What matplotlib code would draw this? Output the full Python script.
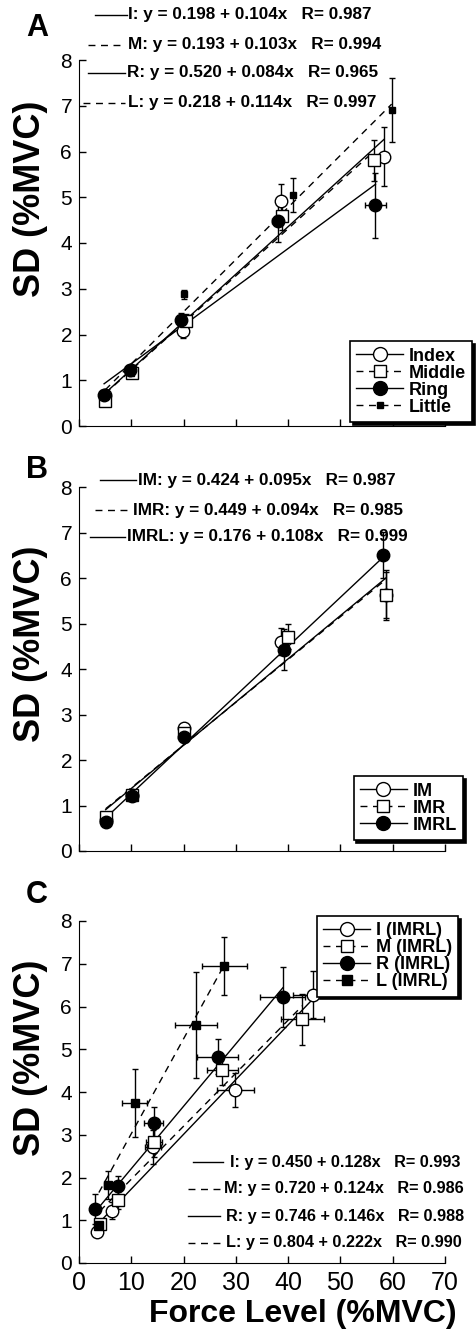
import numpy as np
import matplotlib.pyplot as plt
from matplotlib.lines import Line2D

plt.rcParams['font.family'] = ['Liberation Sans', 'DejaVu Sans']

# ---- Panel A: single-finger tasks
a_names = ['Index', 'Middle', 'Ring', 'Little']
a_tags = ['I', 'M', 'R', 'L']
a_force = [[5.0, 10.0, 19.8, 38.6, 58.3],
           [5.0, 10.2, 20.5, 38.8, 56.5],
           [4.8, 9.8, 19.5, 38.0, 56.7],
           [5.0, 10.0, 20.1, 41.0, 59.8]]
a_force_err = [[0.2, 0.3, 0.4, 0.6, 0.8],
               [0.2, 0.3, 0.4, 0.6, 0.8],
               [0.3, 0.4, 0.6, 1.0, 2.0],
               [0.1, 0.2, 0.2, 0.3, 0.3]]
a_sd = [[0.68, 1.22, 2.08, 4.92, 5.89],
        [0.55, 1.15, 2.30, 4.58, 5.81],
        [0.68, 1.22, 2.32, 4.47, 4.82],
        [0.65, 1.15, 2.88, 5.05, 6.91]]
a_sd_err = [[0.08, 0.10, 0.15, 0.37, 0.65],
            [0.05, 0.10, 0.15, 0.30, 0.45],
            [0.05, 0.10, 0.15, 0.45, 0.72],
            [0.05, 0.08, 0.10, 0.37, 0.70]]
a_intercept = [0.198, 0.193, 0.520, 0.218]
a_slope = [0.104, 0.103, 0.084, 0.114]
a_r = [0.987, 0.994, 0.965, 0.997]

# ---- Panel B: multi-finger totals
b_names = ['IM', 'IMR', 'IMRL']
b_force = [[5.1, 10.1, 20.0, 38.6, 58.7],
           [5.1, 10.1, 20.0, 39.9, 58.8],
           [5.1, 10.1, 20.0, 39.3, 58.2]]
b_force_err = [[0.2, 0.3, 0.3, 0.5, 0.5],
               [0.2, 0.3, 0.3, 0.5, 0.5],
               [0.2, 0.3, 0.3, 0.5, 0.5]]
b_sd = [[0.68, 1.22, 2.70, 4.60, 5.63],
        [0.75, 1.22, 2.60, 4.71, 5.63],
        [0.63, 1.20, 2.50, 4.42, 6.51]]
b_sd_err = [[0.05, 0.08, 0.10, 0.30, 0.50],
            [0.05, 0.08, 0.10, 0.27, 0.55],
            [0.05, 0.08, 0.10, 0.45, 0.50]]
b_intercept = [0.424, 0.449, 0.176]
b_slope = [0.095, 0.094, 0.108]
b_r = [0.987, 0.985, 0.999]

# ---- Panel C: individual fingers within IMRL task
c_names = ['I (IMRL)', 'M (IMRL)', 'R (IMRL)', 'L (IMRL)']
c_tags = ['I', 'M', 'R', 'L']
c_force = [[3.5, 6.4, 14.1, 29.9, 44.7],
           [4.0, 7.5, 14.3, 27.4, 42.7],
           [3.1, 7.5, 14.3, 26.5, 39.0],
           [3.8, 5.6, 10.7, 22.4, 27.8]]
c_force_err = [[0.4, 0.8, 1.5, 3.6, 3.8],
               [0.5, 0.8, 1.5, 3.0, 4.1],
               [0.4, 1.0, 1.8, 3.9, 4.3],
               [0.4, 0.8, 2.4, 4.0, 4.3]]
c_sd = [[0.72, 1.22, 2.72, 4.05, 6.27],
        [0.92, 1.47, 2.82, 4.51, 5.70],
        [1.26, 1.79, 3.28, 4.83, 6.22],
        [0.90, 1.82, 3.74, 5.57, 6.95]]
c_sd_err = [[0.10, 0.20, 0.40, 0.40, 0.55],
            [0.10, 0.20, 0.35, 0.35, 0.60],
            [0.35, 0.25, 0.38, 0.40, 0.71],
            [0.10, 0.33, 0.80, 1.24, 0.67]]
c_intercept = [0.450, 0.720, 0.746, 0.804]
c_slope = [0.128, 0.124, 0.146, 0.222]
c_r = [0.993, 0.986, 0.988, 0.990]

DASH = (0, (5, 4))
# marker, face colour, size, fit line style
style_a = [('o', 'white', 9, '-'), ('s', 'white', 8, DASH),
           ('o', 'black', 9, '-'), ('s', 'black', 4, DASH)]
style_b = [('o', 'white', 9, '-'), ('s', 'white', 8, DASH), ('o', 'black', 9, '-')]
style_c = [('o', 'white', 9, '-'), ('s', 'white', 8, DASH),
           ('o', 'black', 9, '-'), ('s', 'black', 6, DASH)]

W, H = 477, 1334
fig = plt.figure(figsize=(W / 100, H / 100), dpi=100)


def add_ax(top, bottom):
    return fig.add_axes([79 / W, 1 - bottom / H, 366 / W, (bottom - top) / H])


def draw_panel(ax, force, force_err, sd, sd_err, b0, b1, styles):
    for i in range(len(force)):
        x = np.array(force[i])
        mk, fc, ms, ls = styles[i]
        xs = np.array([x.min(), x.max()])
        ax.plot(xs, b0[i] + b1[i] * xs, color='black', lw=1, ls=ls)
        ax.errorbar(x, sd[i], xerr=force_err[i], yerr=sd_err[i], fmt=mk,
                    mfc=fc, mec='black', ms=ms, mew=1, ecolor='black',
                    elinewidth=1, capsize=2.5, capthick=1, clip_on=False)


def style_ax(ax, show_x, label_y):
    ax.set_xlim(0, 70)
    ax.set_ylim(0, 8)
    ax.spines['top'].set_visible(False)
    ax.spines['right'].set_visible(False)
    ax.set_xticks(range(0, 71, 10))
    ax.set_yticks(range(0, 9))
    ax.tick_params(direction='in', length=5, width=1, labelsize=15, pad=5)
    ax.tick_params(axis='x', labelsize=18, pad=6)
    if not show_x:
        ax.set_xticklabels([])
    ax.set_ylabel('SD (%MVC)', fontsize=26, fontweight='bold')
    ax.yaxis.set_label_coords(-0.085, label_y)


def add_legend(ax, names, styles, loc, anchor):
    handles = [Line2D([], [], color='black', lw=1, ls=s[3], marker=s[0],
                      mfc=s[1], mec='black', ms=s[2] + 1) for s in styles]
    leg = ax.legend(handles, names, loc=loc, bbox_to_anchor=anchor,
                    borderaxespad=0, fancybox=False,
                    shadow={'color': 'black', 'alpha': 1},
                    prop={'weight': 'bold', 'size': 13},
                    labelspacing=0.0, handlelength=2.6, handletextpad=0.3,
                    borderpad=0.35)
    leg.get_frame().set_edgecolor('black')
    leg.get_frame().set_linewidth(1.2)


def eq_row(x0, x1, xt, y, ls, tag, b0, b1, r, size=12.3):
    yy = 1 - y / H
    fig.add_artist(Line2D([x0 / W, x1 / W], [yy, yy], transform=fig.transFigure,
                          color='black', lw=1, ls=ls))
    fig.text(xt / W, yy, f'{tag}: y = {b0:.3f} + {b1:.3f}x   R= {r:.3f}',
             fontsize=size, fontweight='bold', va='center', ha='left')


# Panel A
ax_a = add_ax(60, 426)
draw_panel(ax_a, a_force, a_force_err, a_sd, a_sd_err, a_intercept, a_slope, style_a)
style_ax(ax_a, False, 0.62)
add_legend(ax_a, a_names, style_a, 'lower right', (1.074, 0.011))
rows_a = [(95, 127, 128, 15), (88, 125, 128, 45), (88, 125, 127, 73), (83, 125, 128, 103)]
for i, (x0, x1, xt, y) in enumerate(rows_a):
    eq_row(x0, x1, xt, y, style_a[i][3], a_tags[i], a_intercept[i], a_slope[i], a_r[i])

# Panel B
ax_b = add_ax(487, 851)
draw_panel(ax_b, b_force, b_force_err, b_sd, b_sd_err, b_intercept, b_slope, style_b)
style_ax(ax_b, False, 0.57)
add_legend(ax_b, b_names, style_b, 'lower right', (1.049, 0.03))
rows_b = [(100, 136, 138, 480), (95, 130, 133, 510), (90, 125, 127, 537)]
for i, (x0, x1, xt, y) in enumerate(rows_b):
    eq_row(x0, x1, xt, y, style_b[i][3], b_names[i], b_intercept[i], b_slope[i], b_r[i])

# Panel C
ax_c = add_ax(921, 1263)
draw_panel(ax_c, c_force, c_force_err, c_sd, c_sd_err, c_intercept, c_slope, style_c)
style_ax(ax_c, True, 0.60)
ax_c.set_xlabel('Force Level (%MVC)', fontsize=23, fontweight='bold')
ax_c.xaxis.set_label_coords(0.612, -0.105)
add_legend(ax_c, c_names, style_c, 'upper right', (1.036, 1.015))
rows_c = [(193, 223, 230, 1162), (188, 220, 224, 1189), (188, 220, 226, 1216), (188, 220, 226, 1243)]
for i, (x0, x1, xt, y) in enumerate(rows_c):
    eq_row(x0, x1, xt, y, style_c[i][3], c_tags[i], c_intercept[i], c_slope[i], c_r[i], size=11.7)

# panel letters
for letter, y in [('A', 28), ('B', 470), ('C', 895)]:
    fig.text(26 / W, 1 - y / H, letter, fontsize=22, fontweight='bold', va='center', ha='left')

fig.savefig('out.png', dpi=100)
